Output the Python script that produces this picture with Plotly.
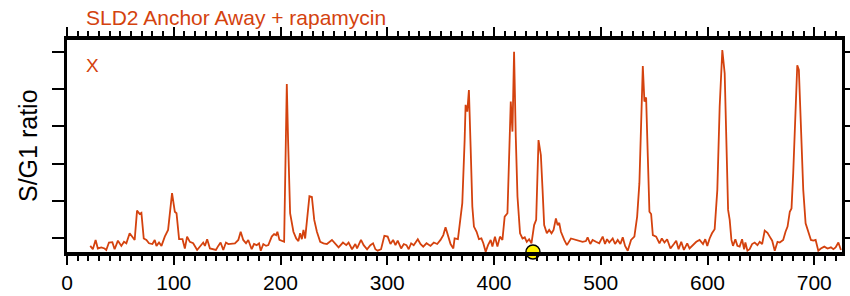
import plotly.graph_objects as go

# Genome position (kb) and S/G1 ratio profile
positions = [
    21.8, 24.2, 26.8, 28.9, 32.1, 35.2, 36.8, 39.3, 42.5, 44.6,
    47.7, 50.9, 53.4, 55.6, 58.7, 61.2, 63.4, 65.6, 68.1, 69.7,
    71.9, 74.4, 76.8, 80.0, 82.2, 83.8, 86.2, 88.5, 91.6, 94.7,
    98.4, 101.0, 102.6, 105.0, 108.2, 110.4, 112.5, 115.1, 118.2, 121.9,
    124.5, 127.6, 129.2, 131.3, 133.9, 137.0, 139.5, 141.7, 143.9, 146.4,
    148.9, 151.1, 154.2, 157.3, 160.5, 162.7, 165.1, 167.7, 169.8, 173.0,
    175.2, 177.7, 179.9, 181.5, 183.9, 186.5, 188.6, 191.8, 194.0, 195.9,
    197.1, 199.0, 203.4, 204.6, 205.9, 207.1, 209.0, 212.1, 214.7, 216.8,
    218.4, 220.0, 221.5, 223.1, 224.7, 227.1, 229.4, 231.6, 234.1, 237.2,
    240.3, 243.5, 248.2, 251.3, 254.4, 258.5, 261.6, 263.8, 267.0, 270.1,
    271.7, 275.4, 277.9, 281.1, 284.2, 286.7, 288.9, 291.0, 294.2, 297.3,
    300.4, 303.0, 305.5, 307.7, 309.8, 313.0, 315.5, 318.0, 320.1, 322.4,
    324.8, 328.6, 331.1, 333.7, 336.8, 340.5, 343.6, 346.8, 349.9, 352.5,
    354.6, 356.8, 359.3, 361.9, 363.1, 366.2, 368.1, 370.3, 372.5, 373.4,
    375.0, 376.5, 378.1, 379.7, 381.2, 383.7, 385.9, 388.2, 390.0, 392.2,
    394.4, 396.9, 398.5, 400.9, 403.2, 405.6, 407.9, 410.0, 412.6, 414.5,
    415.7, 417.3, 418.8, 420.4, 422.0, 424.4, 426.7, 428.8, 430.7, 432.9,
    435.1, 437.6, 439.5, 441.7, 443.9, 445.5, 447.0, 449.5, 451.7, 453.9,
    455.8, 458.0, 459.6, 461.1, 462.7, 465.8, 468.3, 472.1, 478.3, 483.0,
    486.1, 487.7, 490.2, 492.4, 495.5, 498.6, 501.8, 504.0, 505.9, 508.0,
    511.2, 513.4, 515.9, 518.4, 520.6, 522.8, 525.3, 528.4, 531.5, 534.1,
    536.2, 537.8, 539.4, 540.9, 542.5, 544.1, 545.6, 547.2, 548.8, 551.9,
    555.0, 557.2, 559.7, 562.2, 565.3, 568.5, 570.7, 572.9, 575.4, 577.9,
    581.0, 583.2, 586.4, 589.5, 592.6, 595.8, 597.9, 599.8, 602.0, 604.2,
    606.7, 609.2, 611.4, 613.9, 616.1, 617.7, 619.3, 620.8, 622.4, 623.9,
    626.1, 628.0, 630.1, 632.4, 634.3, 635.5, 637.4, 639.5, 641.8, 644.2,
    646.8, 648.9, 651.2, 653.6, 656.2, 658.3, 660.6, 663.0, 665.6, 667.7,
    670.9, 673.1, 675.0, 677.1, 678.7, 680.3, 681.8, 684.1, 685.6, 687.5,
    689.7, 691.9, 694.4, 696.9, 699.1, 701.3, 703.8, 706.2, 709.4, 712.5,
    715.6, 717.9, 720.0, 722.6, 725.0,
]

s_g1_ratio = [
    0.978, 0.969, 0.994, 0.971, 0.974, 0.971, 0.967, 0.987, 0.988, 0.969,
    0.992, 0.978, 0.989, 0.985, 1.012, 1.003, 0.994, 1.073, 1.064, 1.067,
    0.998, 0.994, 0.985, 0.983, 0.994, 0.978, 0.987, 0.978, 1.003, 1.021,
    1.120, 1.070, 1.066, 0.996, 0.996, 0.971, 1.003, 0.989, 0.985, 0.967,
    0.976, 0.987, 0.978, 0.996, 0.971, 0.969, 0.967, 0.978, 0.987, 0.967,
    0.987, 0.983, 0.985, 0.985, 0.994, 1.016, 0.994, 0.985, 0.994, 0.969,
    0.983, 0.980, 0.985, 0.965, 0.983, 0.978, 0.980, 1.003, 1.010, 1.007,
    1.016, 0.994, 0.989, 1.263, 1.414, 1.263, 1.066, 1.016, 0.998, 0.991,
    1.012, 0.996, 1.021, 0.998, 1.048, 1.112, 1.110, 1.048, 1.016, 0.989,
    0.985, 0.983, 0.994, 0.983, 0.974, 0.987, 0.980, 0.987, 0.969, 0.983,
    0.971, 0.994, 0.980, 0.969, 0.980, 0.985, 0.969, 0.965, 0.969, 1.005,
    1.003, 0.983, 0.994, 0.980, 0.992, 0.971, 0.983, 0.980, 0.969, 0.985,
    0.980, 0.996, 0.983, 0.976, 0.985, 0.978, 0.987, 0.983, 0.994, 1.007,
    1.028, 1.007, 0.983, 0.971, 0.998, 0.996, 1.043, 1.093, 1.263, 1.358,
    1.340, 1.398, 1.245, 1.084, 1.030, 1.016, 0.996, 0.998, 0.985, 0.962,
    0.980, 0.994, 0.976, 1.003, 0.976, 1.003, 0.994, 1.057, 1.066, 1.227,
    1.367, 1.286, 1.501, 1.272, 1.111, 1.012, 0.998, 1.001, 0.989, 0.996,
    0.985, 1.034, 1.048, 1.263, 1.223, 1.129, 1.034, 1.012, 1.021, 1.012,
    1.021, 1.052, 1.034, 1.040, 1.016, 0.994, 0.980, 0.998, 0.994, 0.989,
    0.991, 1.001, 0.983, 0.994, 0.989, 0.985, 1.003, 0.983, 0.996, 0.987,
    0.998, 0.983, 0.994, 0.983, 1.001, 0.978, 0.965, 0.994, 1.003, 1.057,
    1.147, 1.308, 1.463, 1.367, 1.378, 1.218, 1.070, 1.064, 1.007, 1.003,
    0.985, 0.998, 0.987, 0.996, 0.971, 0.983, 0.992, 0.969, 0.989, 0.967,
    0.985, 0.971, 0.980, 0.989, 0.994, 0.983, 0.996, 0.978, 0.998, 1.012,
    1.023, 1.129, 1.353, 1.506, 1.443, 1.263, 1.075, 1.048, 0.994, 0.978,
    0.996, 0.978, 0.976, 0.996, 0.969, 0.987, 0.965, 0.969, 0.983, 0.987,
    0.980, 0.989, 0.983, 1.019, 1.013, 1.003, 0.992, 0.965, 0.989, 0.987,
    0.994, 1.016, 1.030, 1.070, 1.079, 1.174, 1.308, 1.465, 1.452, 1.308,
    1.129, 1.039, 1.019, 0.994, 0.992, 0.994, 0.965, 0.971, 0.976, 0.971,
    0.974, 0.969, 0.974, 0.987, 0.967,
]

x_tick_values = [0, 100, 200, 300, 400, 500, 600, 700]
x_tick_labels = ["0", "100", "200", "300", "400", "500", "600", "700"]
y_tick_values = [1.0, 1.1, 1.2, 1.3, 1.4, 1.5]

x_range = [0, 726]
y_range = [0.9615, 1.5329]
centromere_pos = [436.5]

title_text = "SLD2 Anchor Away + rapamycin"
chrom_label = "X"
y_title = "S/G1 ratio"

RED = "#D4420E"
FONT = "Liberation Sans, Arial, Helvetica, sans-serif"

fig = go.Figure()
fig.add_trace(go.Scatter(
    x=positions, y=s_g1_ratio, mode="lines",
    line=dict(color=RED, width=1.8), hoverinfo="skip", showlegend=False,
))
fig.add_trace(go.Scatter(
    x=centromere_pos, y=[y_range[0]] * len(centromere_pos), mode="markers",
    marker=dict(size=14, color="#FFF200", line=dict(color="black", width=1.5)),
    cliponaxis=False, showlegend=False, hoverinfo="skip",
))

fig.update_layout(
    width=850, height=296,
    margin=dict(l=67, r=8, t=40, b=44, autoexpand=False),
    paper_bgcolor="white", plot_bgcolor="white",
    font=dict(family=FONT, size=21, color="black"),
    showlegend=False,
    xaxis=dict(
        range=x_range, tickvals=x_tick_values, ticktext=x_tick_labels,
        ticks="outside", ticklen=9, tickwidth=2, tickcolor="black",
        showline=True, linewidth=4, linecolor="black", mirror="ticks",
        showgrid=False, zeroline=False, automargin=False,
        minor=dict(dtick=10, ticks="outside", ticklen=5, tickwidth=1.5,
                   tickcolor="black", showgrid=False),
        tickfont=dict(size=21, family=FONT, color="black"),
    ),
    yaxis=dict(
        range=y_range, tickvals=y_tick_values, showticklabels=False,
        ticks="outside", ticklen=12, tickwidth=2, tickcolor="black",
        showline=True, linewidth=2.5, linecolor="black", mirror="ticks",
        showgrid=False, zeroline=False, automargin=False,
    ),
    annotations=[
        dict(text=title_text, xref="paper", yref="paper",
             x=(84 - 67) / 775, y=1 + (40 - 18) / 212,
             xanchor="left", yanchor="middle", showarrow=False,
             font=dict(size=21, color=RED, family=FONT)),
        dict(text=chrom_label, xref="paper", yref="paper",
             x=(92.3 - 67) / 775, y=1 - (65 - 40) / 212,
             xanchor="center", yanchor="middle", showarrow=False,
             font=dict(size=19, color=RED, family=FONT)),
        dict(text=y_title, xref="paper", yref="paper",
             x=(28 - 67) / 775, y=0.5, textangle=-90,
             xanchor="center", yanchor="middle", showarrow=False,
             font=dict(size=25, color="black", family=FONT)),
    ],
)

fig.write_html(
    "out.html",
    config={"displayModeBar": False},
    post_script="document.body.style.margin='0px';document.body.style.overflow='hidden';",
)
